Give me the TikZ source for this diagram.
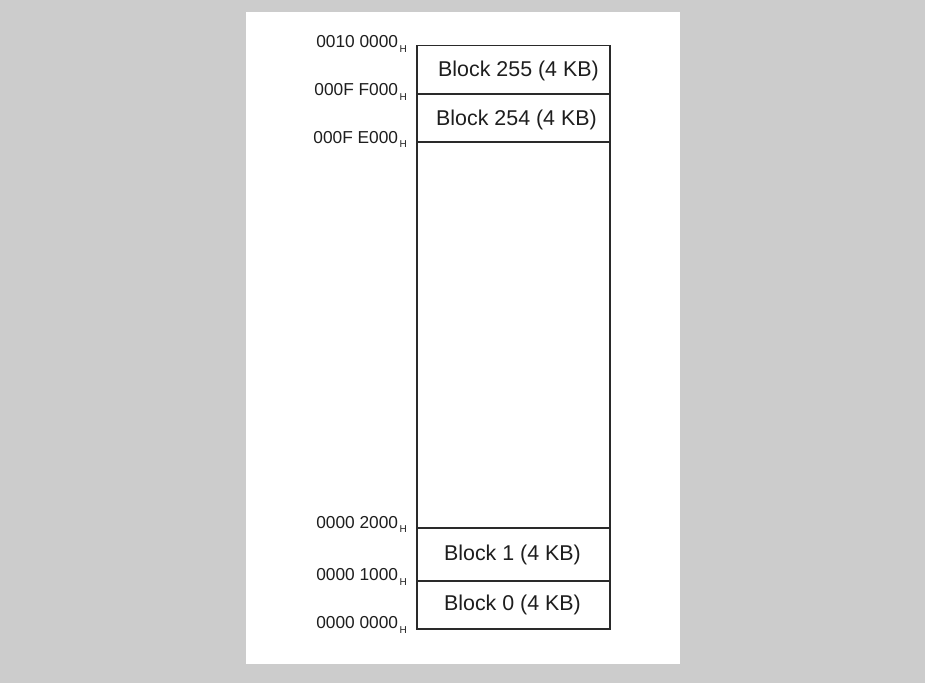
\documentclass[tikz,border=0pt]{standalone}
\usepackage{fontspec}
\setmainfont{Liberation Sans}
\definecolor{bggray}{HTML}{CCCCCC}
\definecolor{linecol}{HTML}{2A2A2A}
\definecolor{txtcol}{HTML}{1E1E1E}
\newcommand{\hsub}{\kern1.5pt{\fontsize{10}{10}\selectfont\raisebox{-4.5pt}{H}}}
\begin{document}
\begin{tikzpicture}[x=1pt,y=-1pt,
  blockbox/.style={draw=linecol,line width=1.3pt,minimum width=193pt,inner sep=0pt,outer sep=0pt,anchor=north west},
  blocktext/.style={font=\fontsize{21.4}{24}\selectfont,text=txtcol,anchor=base,inner sep=0pt},
  addr/.style={font=\fontsize{17.3}{20}\selectfont,text=txtcol,anchor=base east,inner sep=0pt}]
\useasboundingbox (0,0) rectangle (925,683);
\fill[bggray] (0,0) rectangle (925,683);
\fill[white] (246,12) rectangle (680,664);
% memory blocks
\node[blockbox,minimum height=48.3pt] (b255) at (417,45.7) {};
\node[blockbox,minimum height=48pt] (b254) at (417,94) {};
\node[blockbox,minimum height=386pt] (mid) at (417,142) {};
\node[blockbox,minimum height=53pt] (b1) at (417,528) {};
\node[blockbox,minimum height=48pt] (b0) at (417,581) {};
% block texts
\node[blocktext] (t255) at (518.5,76.7) {Block 255 (4 KB)};
\node[blocktext] (t254) at (516.5,125) {Block 254 (4 KB)};
\node[blocktext] (t1) at (512.5,560) {Block 1 (4 KB)};
\node[blocktext] (t0) at (512.5,610.5) {Block 0 (4 KB)};
% address labels
\node[addr] (a1) at (407,47.5) {0010 0000\hsub};
\node[addr] (a2) at (407,95.5) {000F F000\hsub};
\node[addr] (a3) at (407,143) {000F E000\hsub};
\node[addr] (a4) at (407,528) {0000 2000\hsub};
\node[addr] (a5) at (407,580.5) {0000 1000\hsub};
\node[addr] (a6) at (407,628.5) {0000 0000\hsub};
\end{tikzpicture}
\end{document}
